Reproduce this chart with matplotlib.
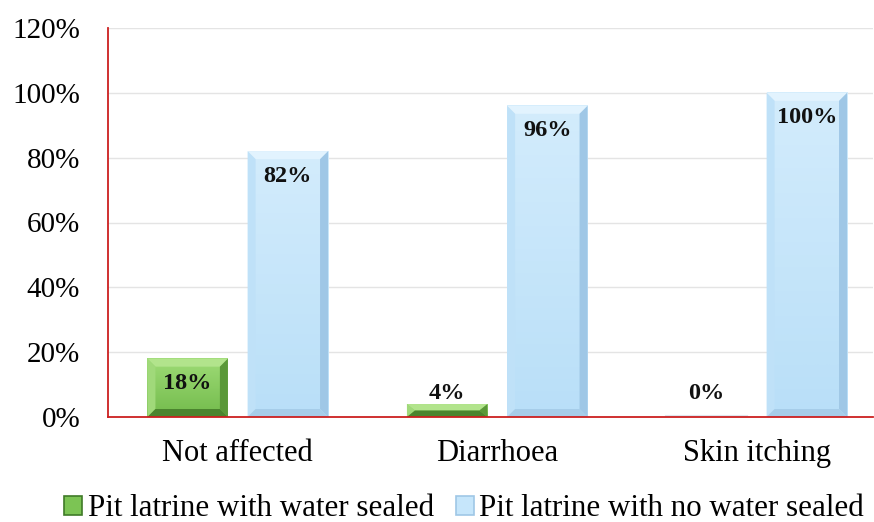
import numpy as np
import matplotlib
matplotlib.use("Agg")
import matplotlib.pyplot as plt
from matplotlib.patches import Polygon, Rectangle
from matplotlib.colors import LinearSegmentedColormap

plt.rcParams["font.family"] = ["Liberation Serif", "DejaVu Serif"]

categories = ["Not affected", "Diarrhoea", "Skin itching"]
sealed = [18, 4, 0]
not_sealed = [82, 96, 100]
series_names = ["Pit latrine with water sealed", "Pit latrine with no water sealed"]

# face gradient (top, bottom), then top, left, right, bottom bevel shades
GREEN = (("#9edb76", "#73bb4c"), "#b2e48c", "#a0d97a", "#5a9838", "#4b842e")
BLUE = (("#d3ecfc", "#b9dff8"), "#e2f3fe", "#bfe1f8", "#9fc7e6", "#a6cde9")

fig = plt.figure(figsize=(8.74, 5.22), dpi=100)
ax = fig.add_axes([108 / 874, 105 / 522, 765 / 874, 389 / 522])

x = np.arange(len(categories))
width = 0.31
offset = 0.193

# bevel size in data units (~8 px)
bx = 8 / 259.5
by = 8 / 3.242


def bevel_bar(xc, h, shades):
    (ftop, fbot), top, left, right, bottom = shades
    x0, x1 = xc - width / 2, xc + width / 2
    if h <= 0:
        ax.plot([x0, x1], [0.2, 0.2], color="#dfe7ee", lw=1.5, zorder=3)
        return
    d = min(by, h / 2)
    cmap = LinearSegmentedColormap.from_list("face", [fbot, ftop])
    grad = np.linspace(0, 1, 64).reshape(-1, 1)
    ax.imshow(grad, cmap=cmap, origin="lower", extent=(x0, x1, 0, h),
              aspect="auto", interpolation="bilinear", zorder=3)
    ax.add_patch(Polygon([(x0, h), (x1, h), (x1 - bx, h - d), (x0 + bx, h - d)],
                         facecolor=top, edgecolor="none", zorder=4))
    ax.add_patch(Polygon([(x0, 0), (x0, h), (x0 + bx, h - d), (x0 + bx, d)],
                         facecolor=left, edgecolor="none", zorder=4))
    ax.add_patch(Polygon([(x1, 0), (x1, h), (x1 - bx, h - d), (x1 - bx, d)],
                         facecolor=right, edgecolor="none", zorder=4))
    ax.add_patch(Polygon([(x0, 0), (x1, 0), (x1 - bx, d), (x0 + bx, d)],
                         facecolor=bottom, edgecolor="none", zorder=4))


def value_label(xc, v):
    y = v - 7.7 if v > 15 else 7.4
    ax.text(xc, y, f"{v}%", ha="center", va="center", fontsize=17.5,
            fontweight="bold", color="#111111", zorder=6)


for i, (g, b) in enumerate(zip(sealed, not_sealed)):
    bevel_bar(x[i] - offset, g, GREEN)
    bevel_bar(x[i] + offset, b, BLUE)
    value_label(x[i] - offset, g)
    value_label(x[i] + offset, b)

ax.set_xlim(-0.5, 2.448)
ax.set_ylim(0, 120)
ax.set_yticks(np.arange(0, 121, 20))
ax.set_yticklabels([f"{t}%" for t in range(0, 121, 20)])
ax.set_xticks(x)
ax.set_xticklabels(categories)
ax.tick_params(axis="y", length=0, pad=20, labelsize=21)
ax.tick_params(axis="x", length=0, pad=16, labelsize=22)
ax.yaxis.grid(True, color="#e4e4e4", lw=1)
ax.set_axisbelow(True)

for s in ("top", "right"):
    ax.spines[s].set_visible(False)
for s in ("left", "bottom"):
    ax.spines[s].set_color("#cc2020")
    ax.spines[s].set_linewidth(1.3)
    ax.spines[s].set_zorder(7)

handles = [Rectangle((0, 0), 1, 1, facecolor="#7cc454", edgecolor="#3f7a28", lw=1.2),
           Rectangle((0, 0), 1, 1, facecolor="#c6e6fb", edgecolor="#9fc7e6", lw=1.2)]
fig.legend(handles, series_names, loc="center", bbox_to_anchor=(464 / 874, 1 - 509 / 522),
           ncol=2, frameon=False, fontsize=22.3, handlelength=0.6, handleheight=0.6,
           handletextpad=0.17, columnspacing=0.7, borderpad=0)

fig.savefig("out.png", dpi=100)
